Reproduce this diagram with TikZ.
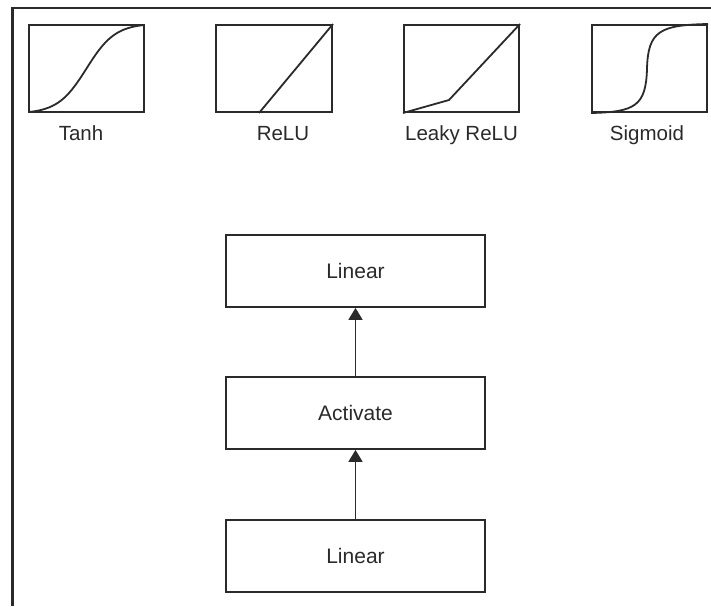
\documentclass[tikz,border=0pt]{standalone}
\usepackage{fontspec}
\setmainfont{Liberation Sans}
\usetikzlibrary{arrows.meta}
\definecolor{ink}{HTML}{2A2A2A}
\tikzset{
  plotbox/.style={draw=ink, line width=2pt, minimum width=115pt, minimum height=87pt, inner sep=0pt},
  curve/.style={draw=ink, line width=1.8pt},
  caption/.style={text=ink, font=\fontsize{20.5pt}{24pt}\selectfont, anchor=base, inner sep=0pt},
  layerbox/.style={draw=ink, line width=1.8pt, minimum width=259pt, minimum height=72pt, inner sep=0pt,
    text=ink, font=\fontsize{21pt}{25pt}\selectfont},
  flow/.style={draw=ink, line width=1.8pt, -{Triangle[width=14pt,length=12pt]}}
}
\begin{document}
\begin{tikzpicture}[x=1pt,y=-1pt]
  \useasboundingbox (0,0) rectangle (711,606);
  % partial frame: top and left edges
  \draw[ink, line width=2.2pt] (711,8) -- (12.5,8) -- (12.5,606);

  % activation function plots
  \node[plotbox] (tanh) at (86.5,68.5) {};
  \node[plotbox, minimum width=116pt] (relu) at (274,68.5) {};
  \node[plotbox] (leaky) at (461.5,68.5) {};
  \node[plotbox] (sigm) at (649.5,68.5) {};

  \draw[curve] plot[domain=-2:2, samples=60, smooth]
    ({86.5+115*\x/4}, {68.5-43.5*tanh(\x)/tanh(2)});
  \draw[curve] (relu.south west) ++(44,0) coordinate (reluknee) -- (relu.north east);
  \draw[curve] (leaky.south west) -- ++(46,-13) coordinate (leakyknee) -- (leaky.north east);
  \draw[curve] (sigm.south west) .. controls (635,112) and (646,106) .. (647,68.5)
    .. controls (648,31) and (660,25) .. (sigm.north east);

  \node[caption] (ltanh) at (81,140) {Tanh};
  \node[caption] (lrelu) at (283,140) {ReLU};
  \node[caption] (lleaky) at (461.5,140) {Leaky ReLU};
  \node[caption] (lsigm) at (647,140) {Sigmoid};

  % layer stack
  \node[layerbox] (lin2) at (355.5,271) {Linear};
  \node[layerbox] (act) at (355.5,413) {Activate};
  \node[layerbox] (lin1) at (355.5,556) {Linear};

  \draw[flow] (act) -- (lin2);
  \draw[flow] (lin1) -- (act);
\end{tikzpicture}
\end{document}
